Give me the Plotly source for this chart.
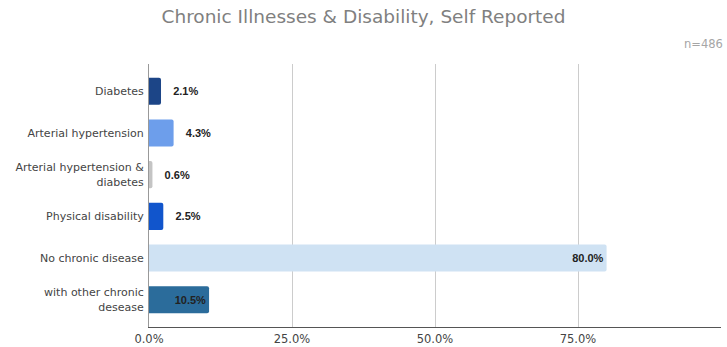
import plotly.graph_objects as go

categories = ["Diabetes", "Arterial hypertension", "Arterial hypertension &<br>diabetes",
              "Physical disability", "No chronic disease", "with other chronic<br>desease"]
values = [2.1, 4.3, 0.6, 2.5, 80.0, 10.5]
colors = ["#1c4587", "#6d9eeb", "#c4c4c4", "#1155cc", "#cfe2f3", "#2b6c9b"]
x_ticks = [0, 25, 50, 75, 100]
x_tick_labels = ["0.0%", "25.0%", "50.0%", "75.0%", ""]

TICK_FONT = "DejaVu Sans, Verdana, sans-serif"
VAL_FONT = "Liberation Sans, Arial, sans-serif"

inside = [v >= 10 for v in values]
texts = [f"{v:.1f}%" if ins else f"   {v:.1f}%" for v, ins in zip(values, inside)]
positions = ["inside" if ins else "outside" for ins in inside]

fig = go.Figure(go.Bar(
    x=values, y=categories, orientation="h",
    marker=dict(color=colors, line=dict(width=0), cornerradius=2),
    text=texts, textposition=positions, insidetextanchor="end",
    textfont=dict(family=VAL_FONT, size=11, color="#222222", weight="bold"),
    outsidetextfont=dict(family=VAL_FONT, size=11, color="#222222", weight="bold"),
    insidetextfont=dict(family=VAL_FONT, size=11, color="#222222", weight="bold"),
    cliponaxis=False, hoverinfo="skip",
))

fig.update_layout(
    width=727, height=347,
    margin=dict(l=149, r=6, t=64, b=20),
    paper_bgcolor="white", plot_bgcolor="white",
    bargap=0.35, showlegend=False,
    title=dict(text="Chronic Illnesses & Disability, Self Reported", x=0.5, xanchor="center",
               y=1 - 17 / 347, yanchor="middle",
               font=dict(family=TICK_FONT, size=18.5, color="#808080")),
    annotations=[dict(text="n=486", xref="paper", yref="paper", x=1 + 4 / 572, y=1 + 20 / 263,
                      xanchor="right", yanchor="middle", showarrow=False,
                      font=dict(family=TICK_FONT, size=11.5, color="#a6a6a6"))],
    xaxis=dict(range=[0, 100], tickvals=x_ticks, ticktext=x_tick_labels, showgrid=True,
               gridcolor="#cccccc", gridwidth=1, zeroline=False, showline=True, linecolor="#555555",
               linewidth=1, ticks="", ticklabelstandoff=1, automargin=False,
               tickfont=dict(family=TICK_FONT, size=11.5, color="#444444")),
    yaxis=dict(categoryorder="array", categoryarray=categories, range=[5.655, -0.655],
               showgrid=False, zeroline=False, showline=True, linecolor="#999999", linewidth=1,
               ticks="", ticklabelstandoff=2, automargin=False,
               tickfont=dict(family=TICK_FONT, size=11, color="#444444")),
)

fig.write_html("out.html")
